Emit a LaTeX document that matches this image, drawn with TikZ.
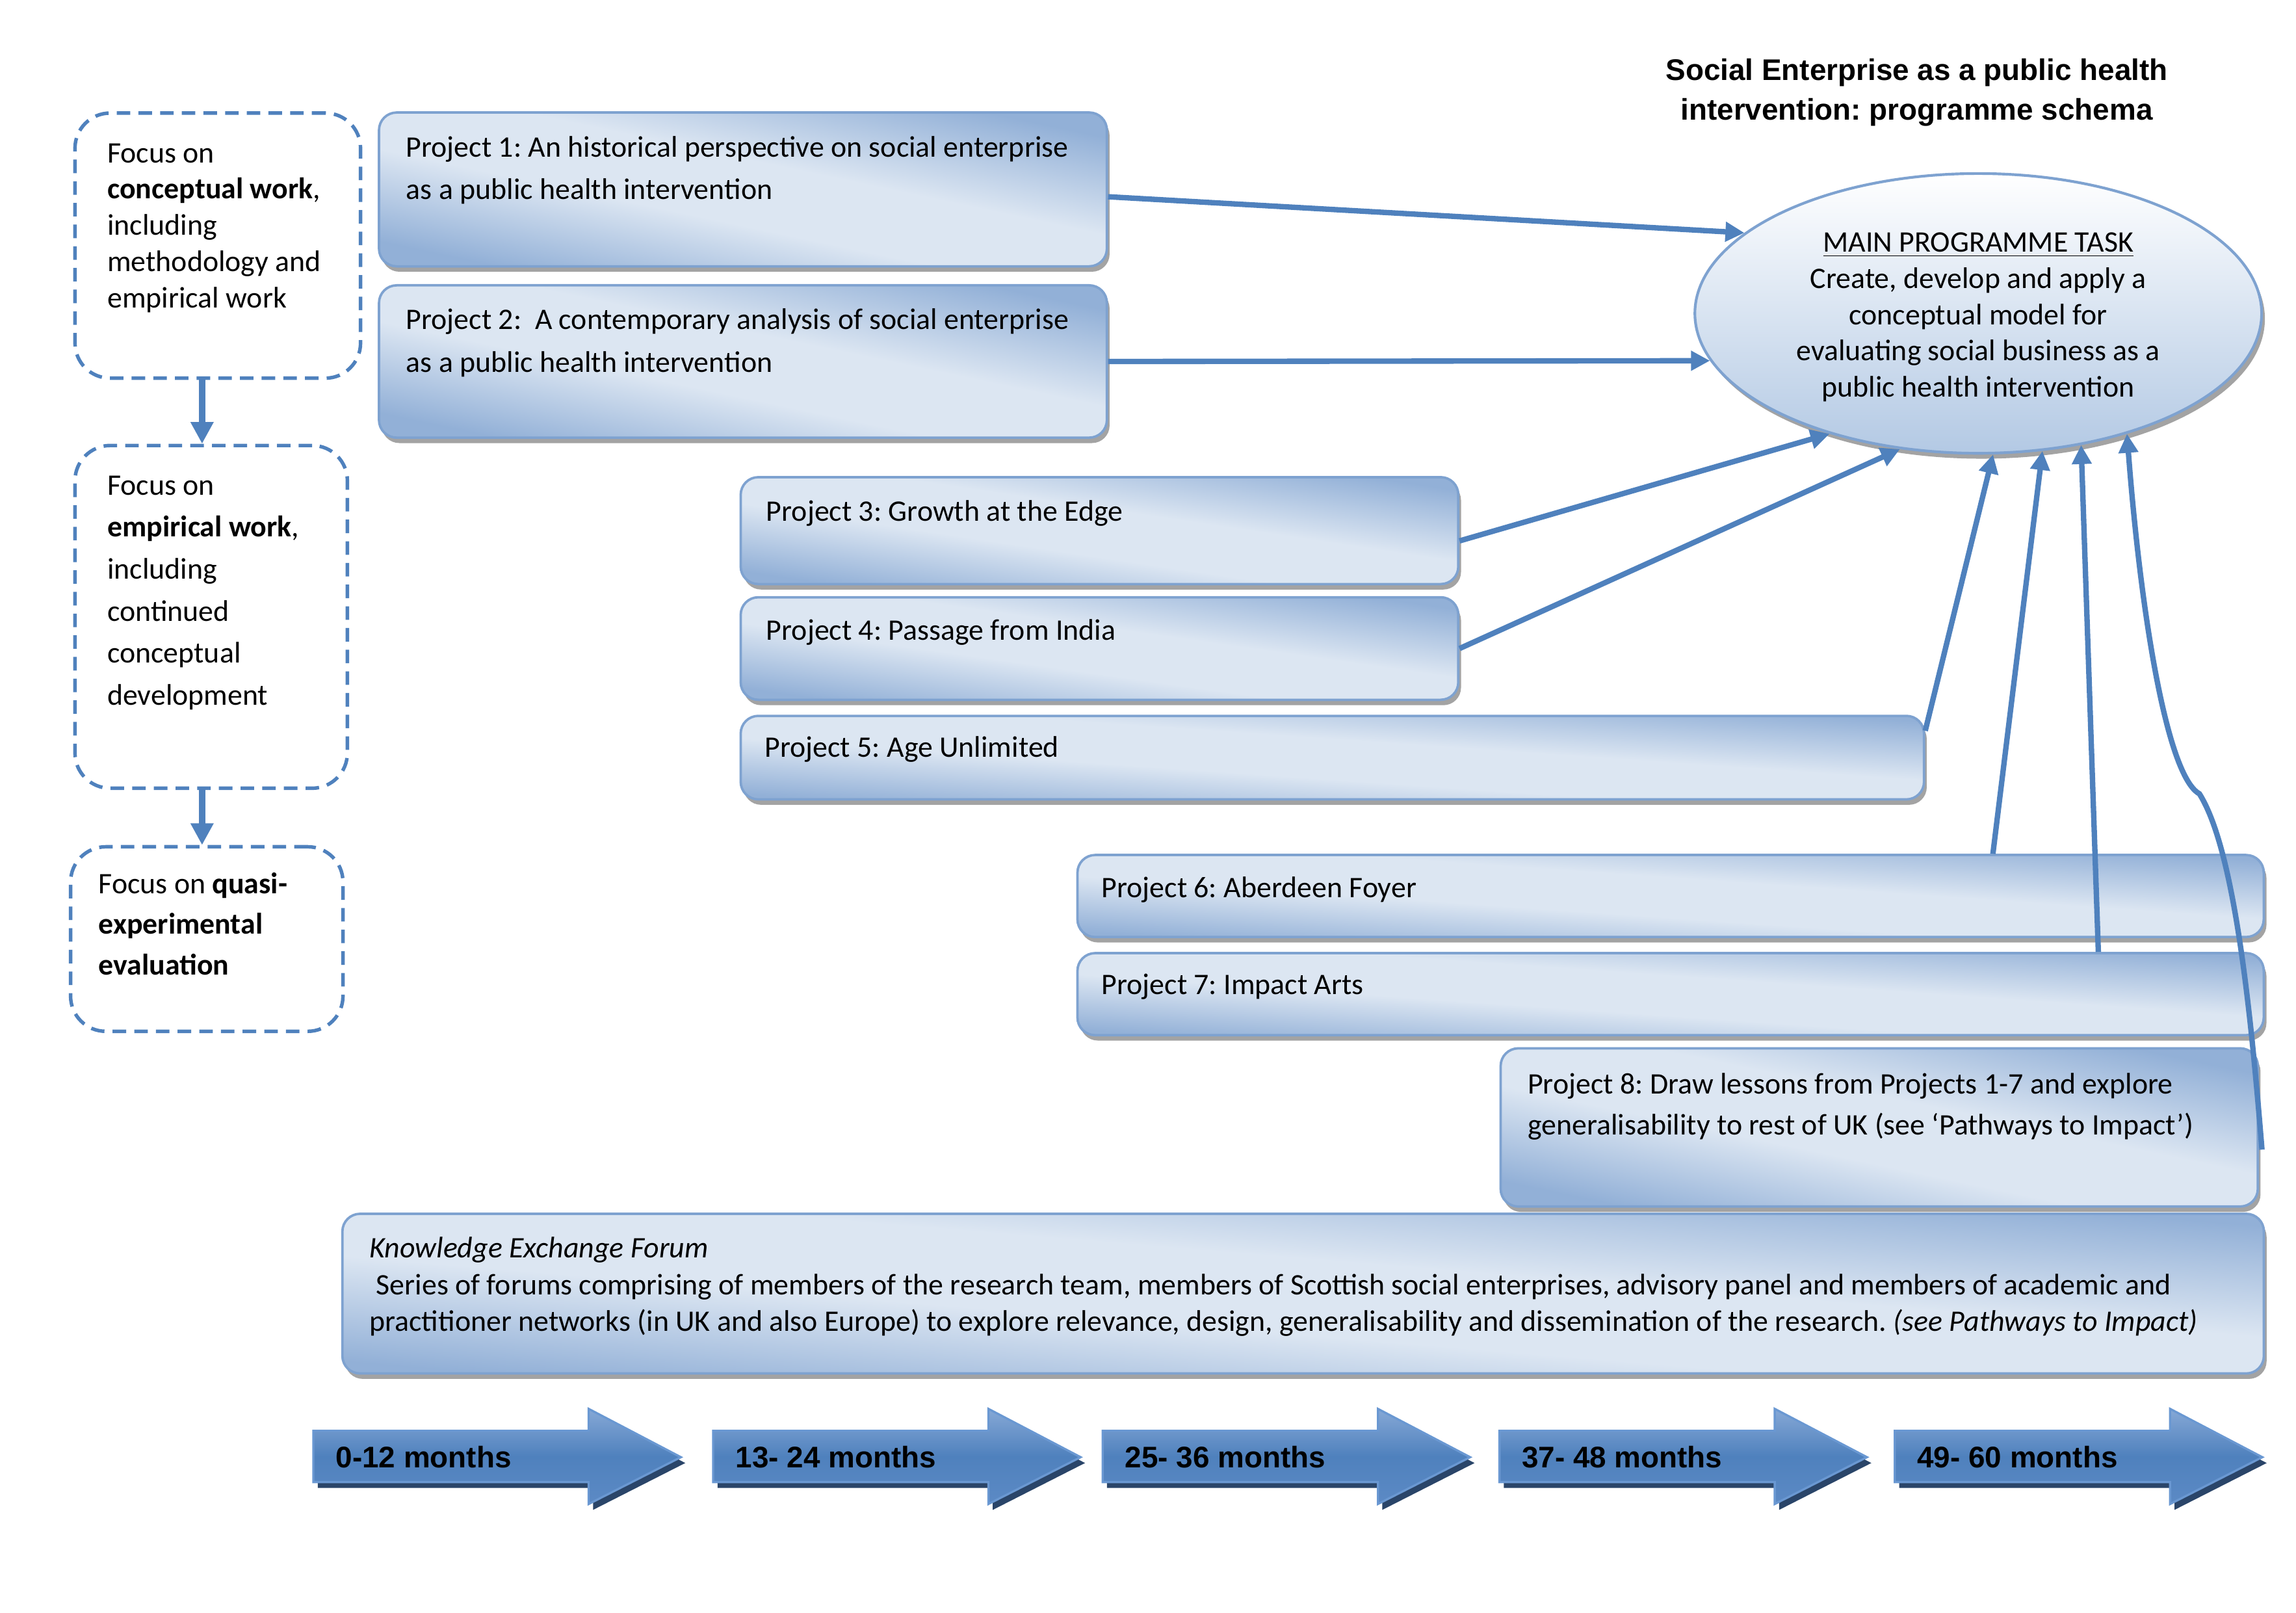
\documentclass[tikz,border=0pt]{standalone}
\usepackage{fontspec}
\setmainfont{Carlito}
\newfontfamily\arialf{Liberation Sans}
\usetikzlibrary{shapes.geometric,arrows.meta,shadows,calc}
\definecolor{accent}{HTML}{4F81BD}
\definecolor{plight}{HTML}{DCE6F2}
\definecolor{pdark}{HTML}{92B0D7}
\definecolor{pborder}{HTML}{7EA2D0}
\definecolor{shd}{HTML}{8C8C8C}
\definecolor{ellbot}{HTML}{B3C9E4}
\definecolor{arrtop}{HTML}{86A8D6}
\definecolor{arrbot}{HTML}{5C8AC5}
\definecolor{arrshadow}{HTML}{2A4569}
\definecolor{arrborder}{HTML}{6A98D2}
\pgfdeclareverticalshading{pshade}{100bp}{color(0bp)=(pdark); color(25bp)=(pdark); color(43bp)=(plight); color(56bp)=(plight); color(75bp)=(pdark); color(100bp)=(pdark)}
\def\U{0.5406pt}
\newcommand\mylines[2]{\begin{tabular}[t]{@{}#1@{}}#2\end{tabular}}
\frenchspacing
\begin{document}
\frenchspacing
\begin{tikzpicture}[x=0.019cm,y=-0.019cm,
  pbox/.style={rectangle, rounded corners=6.5pt, draw=pborder, line width=0.9pt,
     shading=pshade,
     drop shadow={shadow xshift=1pt, shadow yshift=-2pt, fill=shd, opacity=0.8},
     anchor=north west, inner sep=0pt},
  fbox/.style={rectangle, rounded corners=13pt, draw=accent, line width=1.3pt,
     dash pattern=on 5pt off 3pt, fill=white, anchor=north west, inner sep=0pt},
  txt/.style={anchor=base west, inner sep=0pt},
  conn/.style={draw=accent, line width=2pt, -{Triangle[length=7pt,width=7pt]}},
  vconn/.style={draw=accent, line width=2.3pt, -{Triangle[length=8pt,width=8pt]}},
  month/.style={anchor=base west, inner sep=0pt, font=\arialf\bfseries\fontsize{11}{13}\selectfont},
]
\useasboundingbox (0,0) rectangle (1568,1101);

% title
\node[anchor=base, inner sep=0pt, font=\arialf\bfseries\fontsize{11}{14.6}\selectfont] (title) at (1309,55)
  {\mylines{c}{Social Enterprise as a public health\\intervention: programme schema}};

% left focus boxes
\node[fbox, minimum width=195*\U, minimum height=181*\U] (la) at (50,76) {};
\node[fbox, minimum width=186*\U, minimum height=234*\U] (lb) at (50,303) {};
\node[fbox, minimum width=186*\U, minimum height=126*\U] (lc) at (47,577) {};
\node[txt, font=\fontsize{11}{13.4}\selectfont] (lat) at (73,111)
  {\mylines{l}{Focus on\\\textbf{conceptual work},\\including\\methodology and\\empirical work}};
\node[txt, font=\fontsize{11}{15.5}\selectfont] (lbt) at (73,338)
  {\mylines{l}{Focus on\\\textbf{empirical work},\\including\\continued\\conceptual\\development}};
\node[txt, font=\fontsize{11}{15.1}\selectfont] (lct) at (67,610)
  {\mylines{l}{Focus on \textbf{quasi-}\\\textbf{experimental}\\\textbf{evaluation}}};
\draw[vconn] ($(la.south west)+(88,0)$) -- ($(lb.north west)+(88,0)$);
\draw[vconn] ($(lb.south west)+(88,0)$) -- ($(lc.north west)+(91,0)$);

% main ellipse
\node[ellipse, minimum width=387*\U, minimum height=191*\U, inner sep=0pt, draw=pborder, line width=1pt,
      top color=white, bottom color=ellbot,
      drop shadow={shadow xshift=1.2pt, shadow yshift=-2pt, fill=shd, opacity=0.8}] (main) at (1351,214) {};
\node[anchor=base, inner sep=0pt, font=\fontsize{11}{13.4}\selectfont] (maint) at (1351,172)
  {\mylines{c}{\underline{MAIN PROGRAMME TASK}\\Create, develop and apply a\\conceptual model for\\evaluating social business as a\\public health intervention}};

% project boxes
\node[pbox, shading angle=-11.9, minimum width=497*\U, minimum height=105*\U] (p1) at (258,76) {};
\node[pbox, shading angle=-11.8, minimum width=497*\U, minimum height=104*\U] (p2) at (258,194) {};
\node[pbox, shading angle=-8.5, minimum width=490*\U, minimum height=73*\U] (p3) at (505,325) {};
\node[pbox, shading angle=-8.1, minimum width=490*\U, minimum height=70*\U] (p4) at (505,407) {};
\node[pbox, shading angle=-4.0, minimum width=808*\U, minimum height=57*\U] (p5) at (505,488) {};
\node[pbox, shading angle=-4.0, minimum width=810*\U, minimum height=56*\U] (p6) at (735,583) {};
\node[pbox, shading angle=-4.0, minimum width=810*\U, minimum height=56*\U] (p7) at (735,650) {};
\node[pbox, shading angle=-11.8, minimum width=517*\U, minimum height=108*\U] (p8) at (1024,715) {};
\node[pbox, shading angle=-4.7, minimum width=1312*\U, minimum height=109*\U] (kef) at (233,828) {};

\node[txt, font=\fontsize{11}{15.7}\selectfont] (p1t) at (277,107)
  {\mylines{l}{Project 1: An historical perspective on social enterprise\\as a public health intervention}};
\node[txt, font=\fontsize{11}{15.7}\selectfont] (p2t) at (277,225)
  {\mylines{l}{Project 2:\ \ A contemporary analysis of social enterprise\\as a public health intervention}};
\node[txt, font=\fontsize{11}{13}\selectfont] (p3t) at (523,356) {Project 3: Growth at the Edge};
\node[txt, font=\fontsize{11}{13}\selectfont] (p4t) at (523,437) {Project 4: Passage from India};
\node[txt, font=\fontsize{11}{13}\selectfont] (p5t) at (522,517) {Project 5: Age Unlimited};
\node[txt, font=\fontsize{11}{13}\selectfont] (p6t) at (752,613) {Project 6: Aberdeen Foyer};
\node[txt, font=\fontsize{11}{13}\selectfont] (p7t) at (752,679) {Project 7: Impact Arts};
\node[txt, font=\fontsize{11}{15.1}\selectfont] (p8t) at (1043,747)
  {\mylines{l}{Project 8: Draw lessons from Projects 1-7 and explore\\generalisability to rest of UK (see ‘Pathways to Impact’)}};
\node[txt, font=\fontsize{11}{13.5}\selectfont] (keft) at (252,859)
  {\mylines{l}{\textit{Knowledge Exchange Forum}\\\ Series of forums comprising of members of the research team, members of Scottish social enterprises, advisory panel and members of academic and\\practitioner networks (in UK and also Europe) to explore relevance, design, generalisability and dissemination of the research. \textit{(see Pathways to Impact)}}};

% connectors
\draw[conn] ($(p1.east)+(0,5)$) -- (main.161);
\draw[conn] (p2.east) -- (main.190);
\draw[conn] ($(p3.east)+(0,7)$) -- (main.219);
\draw[conn] (p4.east) -- (main.240);
\draw[conn] ($(p5.north east)+(0,11)$) -- (main.276);
\draw[conn] ($(p6.north west)+(626,0)$) -- (main.295);
\draw[conn] ($(p7.north west)+(698,0)$) -- (main.308);
\draw[conn] ($(p8.north east)+(2,70)$) .. controls (1537,690) and (1526,580) .. (1502,542)
   .. controls (1480,530) and (1462,420) .. (main.321);

% timeline arrows
\foreach \x/\t/\n in {214/0-12 months/m1, 487/13- 24 months/m2, 753/25- 36 months/m3, 1024/37- 48 months/m4, 1294/49- 60 months/m5}{
  \fill[arrshadow] ($(\x,977)+(3,4)$) -- ++(188,0) -- ++(0,-15) -- ++(63,33) -- ++(-63,32) -- ++(0,-15) -- ++(-188,0) -- cycle;
  \path[draw=arrborder, line width=0.8pt, top color=arrtop, bottom color=arrbot, middle color=accent]
     (\x,977) -- ++(188,0) -- ++(0,-15) -- ++(63,33) -- ++(-63,32) -- ++(0,-15) -- ++(-188,0) -- cycle;
  \node[month] (\n) at (\x+15,1002) {\t};
}
\end{tikzpicture}
\end{document}
